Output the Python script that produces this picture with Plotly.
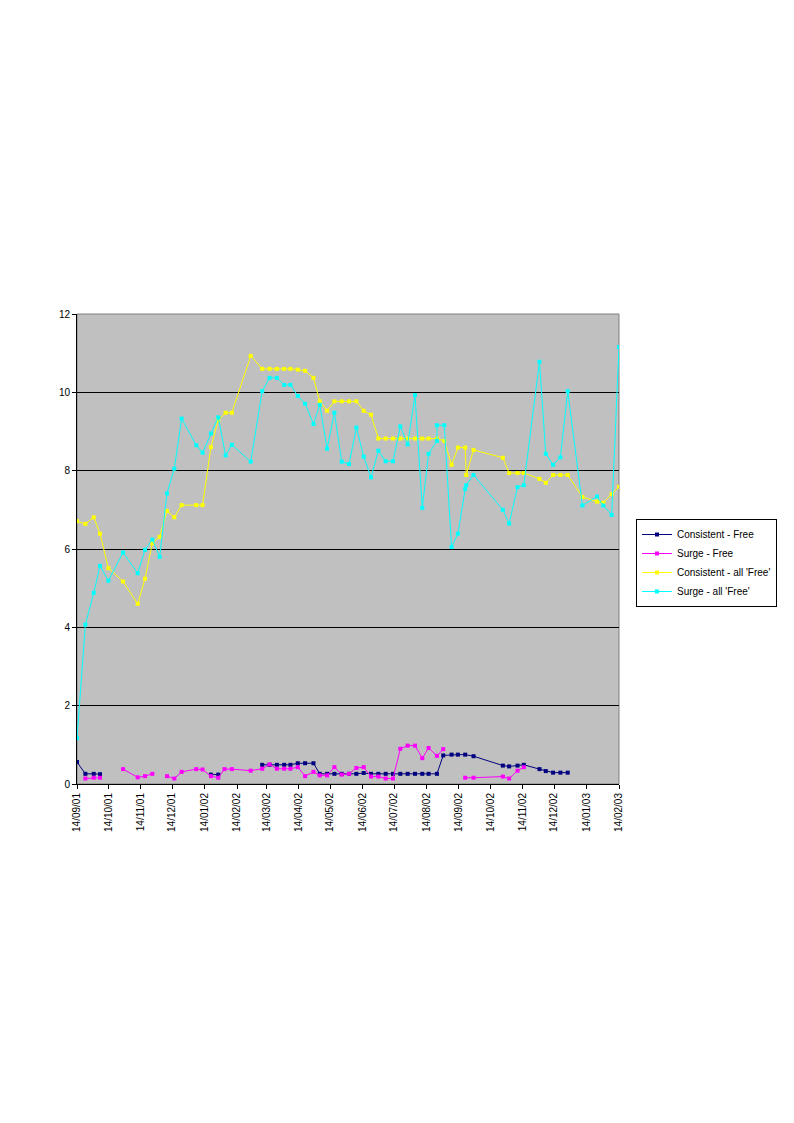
import pandas as pd
import plotly.graph_objects as go

# -- fecha base del eje x: los datos van en dias desde 14/09/01
inicio = pd.Timestamp("2001-09-14")

# -- Consistent - all 'Free'
dias_cons_all = [0, 8, 16, 22, 30, 44, 58, 65, 72, 79, 86, 93, 100, 114, 120, 128, 135, 142, 148, 166,
                 177, 184, 191, 198, 204, 211, 218, 226, 232, 239, 246, 253, 260, 267, 274, 281, 288, 295,
                 302, 309, 316, 323, 330, 336, 344, 351, 358, 364, 371, 372, 379, 407, 413, 421, 427, 442,
                 448, 455, 462, 469, 483, 497, 503, 511, 518]
cons_all = [6.71, 6.64, 6.81, 6.39, 5.51, 5.17, 4.60, 5.24, 6.15, 6.31, 6.97, 6.81, 7.12, 7.12, 7.12, 8.60,
            9.29, 9.48, 9.48, 10.93, 10.60, 10.60, 10.60, 10.60, 10.60, 10.58, 10.55, 10.37, 9.77, 9.53,
            9.77, 9.77, 9.77, 9.77, 9.53, 9.43, 8.82, 8.82, 8.82, 8.82, 8.82, 8.82, 8.82, 8.82, 8.82, 8.76,
            8.15, 8.59, 8.59, 7.89, 8.53, 8.33, 7.94, 7.94, 7.94, 7.79, 7.69, 7.89, 7.89, 7.89, 7.33, 7.21,
            7.18, 7.40, 7.59]

# -- Surge - all 'Free'
dias_surge_all = [0, 8, 16, 22, 30, 44, 58, 65, 72, 79, 86, 93, 100, 114, 120, 128, 135, 142, 148, 166,
                  177, 184, 191, 198, 204, 211, 218, 226, 232, 239, 246, 253, 260, 267, 274, 281, 288, 295,
                  302, 309, 316, 323, 330, 336, 344, 344, 351, 358, 364, 371, 372, 379, 407, 413, 421, 427,
                  442, 448, 455, 462, 469, 483, 497, 503, 511, 518]
surge_all = [1.17, 4.07, 4.88, 5.57, 5.19, 5.91, 5.38, 5.98, 6.24, 5.80, 7.42, 8.05, 9.33, 8.65, 8.46, 8.95,
             9.36, 8.39, 8.66, 8.23, 10.03, 10.37, 10.37, 10.19, 10.19, 9.91, 9.71, 9.19, 9.68, 8.56, 9.48,
             8.23, 8.17, 9.10, 8.36, 7.83, 8.51, 8.24, 8.24, 9.13, 8.67, 9.93, 7.05, 8.43, 8.76, 9.16, 9.16,
             6.05, 6.39, 7.53, 7.63, 7.89, 7.00, 6.65, 7.58, 7.63, 10.78, 8.43, 8.15, 8.34, 10.03, 7.11,
             7.34, 7.11, 6.87, 11.16]

# -- Consistent - Free (None = hueco en la serie)
dias_cons = [0, 8, 16, 22, 75, 128, 135, 155, 177, 184, 191, 198, 204, 211, 218, 226, 232, 239, 246, 253,
             260, 267, 274, 281, 288, 295, 302, 309, 316, 323, 330, 336, 344, 350, 358, 364, 371, 379, 407,
             413, 421, 427, 442, 448, 455, 462, 469]
cons = [0.56, 0.26, 0.26, 0.25, None, 0.24, 0.24, None, 0.49, 0.49, 0.49, 0.49, 0.49, 0.53, 0.53, 0.53,
        0.26, 0.26, 0.26, 0.26, 0.26, 0.26, 0.28, 0.26, 0.26, 0.26, 0.26, 0.26, 0.26, 0.26, 0.26, 0.26,
        0.26, 0.73, 0.75, 0.75, 0.75, 0.71, 0.47, 0.45, 0.47, 0.49, 0.38, 0.33, 0.29, 0.29, 0.29]

# -- Surge - Free
dias_surge = [8, 16, 22, 33, 44, 58, 65, 72, 79, 86, 93, 100, 114, 120, 128, 135, 141, 148, 166, 177, 184,
              191, 198, 204, 211, 218, 226, 232, 239, 246, 253, 260, 267, 274, 281, 288, 295, 302, 309, 316,
              323, 330, 336, 344, 350, 360, 371, 379, 407, 413, 421, 427]
surge = [0.14, 0.16, 0.16, None, 0.38, 0.17, 0.20, 0.26, None, 0.20, 0.14, 0.31, 0.38, 0.37, 0.20, 0.16,
         0.38, 0.38, 0.34, 0.39, 0.50, 0.39, 0.39, 0.39, 0.43, 0.20, 0.31, 0.22, 0.22, 0.43, 0.24, 0.26,
         0.41, 0.43, 0.19, 0.19, 0.14, 0.14, 0.90, 0.98, 0.98, 0.66, 0.92, 0.72, 0.89, None, 0.16, 0.16,
         0.19, 0.14, 0.34, 0.43]

ticks = pd.date_range("2001-09-14", "2003-02-14", freq=pd.DateOffset(months=1))


def fechas(dias):
    return [inicio + pd.Timedelta(days=d) for d in dias]


series = [
    ("Consistent - Free", dias_cons, cons, "#000080"),
    ("Surge - Free", dias_surge, surge, "#ff00ff"),
    ("Consistent - all 'Free'", dias_cons_all, cons_all, "#ffff00"),
    ("Surge - all 'Free'", dias_surge_all, surge_all, "#00ffff"),
]

fig = go.Figure()
for nombre, dd, vv, color in series:
    fig.add_trace(go.Scatter(x=fechas(dd), y=vv, name=nombre, mode="lines+markers",
                             line=dict(color=color, width=1),
                             marker=dict(symbol="square", size=4, color=color),
                             connectgaps=False))

fig.update_layout(
    width=794, height=1123,
    margin=dict(l=69, r=183, t=306, b=347, pad=0, autoexpand=False),
    paper_bgcolor="white", plot_bgcolor="#c0c0c0",
    font=dict(family="Liberation Sans, Arial", size=10, color="black"),
    showlegend=True,
    legend=dict(x=(628 - 69) / 542, y=(776 - 511) / 470, xanchor="left", yanchor="top",
                bgcolor="white", bordercolor="black", borderwidth=1,
                font=dict(size=10), tracegroupgap=0, itemwidth=30),
)
fig.update_xaxes(range=[inicio, pd.Timestamp("2003-02-14")], tickvals=ticks, tickformat="%d/%m/%y",
                 tickangle=-90, showgrid=False, showline=True, linecolor="black", ticks="outside",
                 ticklen=4, tickcolor="black", zeroline=False, mirror=False)
fig.update_yaxes(range=[0, 12], dtick=2, showgrid=True, gridcolor="black", gridwidth=1,
                 showline=True, linecolor="black", ticks="outside", ticklen=4, tickcolor="black",
                 zeroline=False)
fig.add_shape(type="rect", xref="paper", yref="paper", x0=0, x1=1, y0=0, y1=1,
              line=dict(color="#808080", width=1), layer="below")

fig.write_html("out.html")
